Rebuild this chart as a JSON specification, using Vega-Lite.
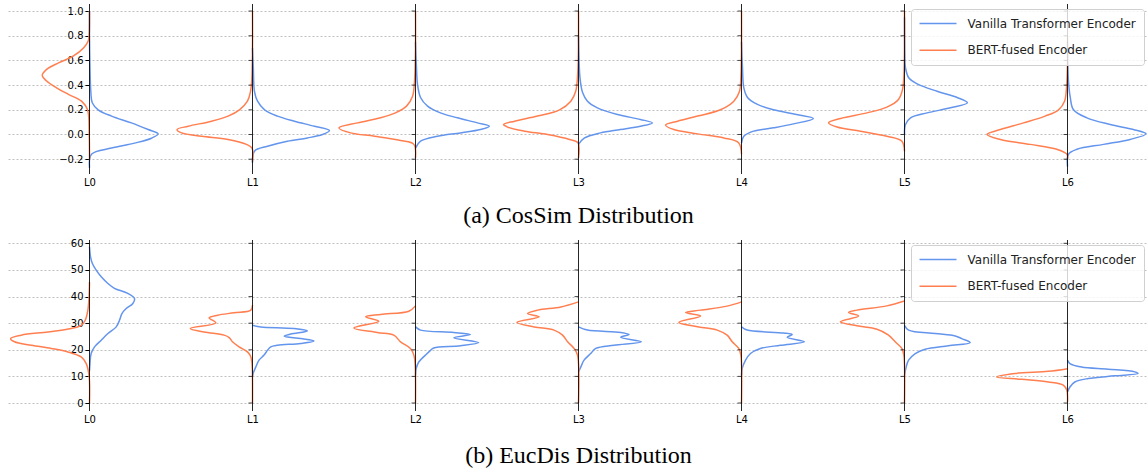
{
  "$schema": "https://vega.github.io/schema/vega-lite/v6.json",
  "padding": {"left": 7, "top": 3, "right": 0, "bottom": 0},
  "background": "white",
  "datasets": {
    "cos": [
      {"series":"Vanilla Transformer Encoder","layer":0,"y":-0.27,"x":0},
      {"series":"Vanilla Transformer Encoder","layer":0,"y":-0.16,"x":0.012},
      {"series":"Vanilla Transformer Encoder","layer":0,"y":-0.11,"x":0.135},
      {"series":"Vanilla Transformer Encoder","layer":0,"y":-0.07,"x":0.276},
      {"series":"Vanilla Transformer Encoder","layer":0,"y":-0.03,"x":0.38},
      {"series":"Vanilla Transformer Encoder","layer":0,"y":0.005,"x":0.421},
      {"series":"Vanilla Transformer Encoder","layer":0,"y":0.04,"x":0.36},
      {"series":"Vanilla Transformer Encoder","layer":0,"y":0.094,"x":0.257},
      {"series":"Vanilla Transformer Encoder","layer":0,"y":0.149,"x":0.135},
      {"series":"Vanilla Transformer Encoder","layer":0,"y":0.2,"x":0.053},
      {"series":"Vanilla Transformer Encoder","layer":0,"y":0.257,"x":0.017},
      {"series":"Vanilla Transformer Encoder","layer":0,"y":0.35,"x":0.008},
      {"series":"Vanilla Transformer Encoder","layer":0,"y":0.54,"x":0.003},
      {"series":"Vanilla Transformer Encoder","layer":0,"y":0.8,"x":0},
      {"series":"Vanilla Transformer Encoder","layer":0,"y":1.0,"x":0},
      {"series":"Vanilla Transformer Encoder","layer":1,"y":-0.23,"x":1},
      {"series":"Vanilla Transformer Encoder","layer":1,"y":-0.135,"x":1.012},
      {"series":"Vanilla Transformer Encoder","layer":1,"y":-0.095,"x":1.092},
      {"series":"Vanilla Transformer Encoder","layer":1,"y":-0.054,"x":1.214},
      {"series":"Vanilla Transformer Encoder","layer":1,"y":-0.028,"x":1.337},
      {"series":"Vanilla Transformer Encoder","layer":1,"y":0,"x":1.429},
      {"series":"Vanilla Transformer Encoder","layer":1,"y":0.032,"x":1.472},
      {"series":"Vanilla Transformer Encoder","layer":1,"y":0.067,"x":1.38},
      {"series":"Vanilla Transformer Encoder","layer":1,"y":0.108,"x":1.257},
      {"series":"Vanilla Transformer Encoder","layer":1,"y":0.149,"x":1.153},
      {"series":"Vanilla Transformer Encoder","layer":1,"y":0.2,"x":1.074},
      {"series":"Vanilla Transformer Encoder","layer":1,"y":0.27,"x":1.031},
      {"series":"Vanilla Transformer Encoder","layer":1,"y":0.35,"x":1.012},
      {"series":"Vanilla Transformer Encoder","layer":1,"y":0.54,"x":1.005},
      {"series":"Vanilla Transformer Encoder","layer":1,"y":0.7,"x":1},
      {"series":"Vanilla Transformer Encoder","layer":2,"y":-0.11,"x":2},
      {"series":"Vanilla Transformer Encoder","layer":2,"y":-0.054,"x":2.031},
      {"series":"Vanilla Transformer Encoder","layer":2,"y":-0.014,"x":2.135},
      {"series":"Vanilla Transformer Encoder","layer":2,"y":0.013,"x":2.276},
      {"series":"Vanilla Transformer Encoder","layer":2,"y":0.04,"x":2.398},
      {"series":"Vanilla Transformer Encoder","layer":2,"y":0.067,"x":2.453},
      {"series":"Vanilla Transformer Encoder","layer":2,"y":0.094,"x":2.38},
      {"series":"Vanilla Transformer Encoder","layer":2,"y":0.135,"x":2.257},
      {"series":"Vanilla Transformer Encoder","layer":2,"y":0.175,"x":2.153},
      {"series":"Vanilla Transformer Encoder","layer":2,"y":0.23,"x":2.074},
      {"series":"Vanilla Transformer Encoder","layer":2,"y":0.3,"x":2.031},
      {"series":"Vanilla Transformer Encoder","layer":2,"y":0.41,"x":2.012},
      {"series":"Vanilla Transformer Encoder","layer":2,"y":0.54,"x":2.006},
      {"series":"Vanilla Transformer Encoder","layer":2,"y":0.75,"x":2},
      {"series":"Vanilla Transformer Encoder","layer":3,"y":-0.08,"x":3},
      {"series":"Vanilla Transformer Encoder","layer":3,"y":-0.028,"x":3.037},
      {"series":"Vanilla Transformer Encoder","layer":3,"y":0.013,"x":3.135},
      {"series":"Vanilla Transformer Encoder","layer":3,"y":0.04,"x":3.257},
      {"series":"Vanilla Transformer Encoder","layer":3,"y":0.067,"x":3.38},
      {"series":"Vanilla Transformer Encoder","layer":3,"y":0.094,"x":3.453},
      {"series":"Vanilla Transformer Encoder","layer":3,"y":0.122,"x":3.38},
      {"series":"Vanilla Transformer Encoder","layer":3,"y":0.162,"x":3.239},
      {"series":"Vanilla Transformer Encoder","layer":3,"y":0.216,"x":3.116},
      {"series":"Vanilla Transformer Encoder","layer":3,"y":0.27,"x":3.055},
      {"series":"Vanilla Transformer Encoder","layer":3,"y":0.34,"x":3.025},
      {"series":"Vanilla Transformer Encoder","layer":3,"y":0.46,"x":3.009},
      {"series":"Vanilla Transformer Encoder","layer":3,"y":0.68,"x":3.002},
      {"series":"Vanilla Transformer Encoder","layer":3,"y":0.8,"x":3},
      {"series":"Vanilla Transformer Encoder","layer":4,"y":-0.07,"x":4},
      {"series":"Vanilla Transformer Encoder","layer":4,"y":-0.014,"x":4.014},
      {"series":"Vanilla Transformer Encoder","layer":4,"y":0.027,"x":4.074},
      {"series":"Vanilla Transformer Encoder","layer":4,"y":0.054,"x":4.196},
      {"series":"Vanilla Transformer Encoder","layer":4,"y":0.086,"x":4.319},
      {"series":"Vanilla Transformer Encoder","layer":4,"y":0.13,"x":4.441},
      {"series":"Vanilla Transformer Encoder","layer":4,"y":0.162,"x":4.337},
      {"series":"Vanilla Transformer Encoder","layer":4,"y":0.2,"x":4.196},
      {"series":"Vanilla Transformer Encoder","layer":4,"y":0.244,"x":4.098},
      {"series":"Vanilla Transformer Encoder","layer":4,"y":0.3,"x":4.037},
      {"series":"Vanilla Transformer Encoder","layer":4,"y":0.38,"x":4.014},
      {"series":"Vanilla Transformer Encoder","layer":4,"y":0.54,"x":4.006},
      {"series":"Vanilla Transformer Encoder","layer":4,"y":0.75,"x":4},
      {"series":"Vanilla Transformer Encoder","layer":5,"y":0,"x":5},
      {"series":"Vanilla Transformer Encoder","layer":5,"y":0.081,"x":5.006},
      {"series":"Vanilla Transformer Encoder","layer":5,"y":0.135,"x":5.037},
      {"series":"Vanilla Transformer Encoder","layer":5,"y":0.175,"x":5.139},
      {"series":"Vanilla Transformer Encoder","layer":5,"y":0.216,"x":5.282},
      {"series":"Vanilla Transformer Encoder","layer":5,"y":0.257,"x":5.386},
      {"series":"Vanilla Transformer Encoder","layer":5,"y":0.3,"x":5.323},
      {"series":"Vanilla Transformer Encoder","layer":5,"y":0.35,"x":5.2},
      {"series":"Vanilla Transformer Encoder","layer":5,"y":0.41,"x":5.078},
      {"series":"Vanilla Transformer Encoder","layer":5,"y":0.46,"x":5.026},
      {"series":"Vanilla Transformer Encoder","layer":5,"y":0.54,"x":5.006},
      {"series":"Vanilla Transformer Encoder","layer":5,"y":0.65,"x":5.002},
      {"series":"Vanilla Transformer Encoder","layer":5,"y":0.95,"x":5},
      {"series":"Vanilla Transformer Encoder","layer":6,"y":-0.26,"x":6},
      {"series":"Vanilla Transformer Encoder","layer":6,"y":-0.16,"x":6.006},
      {"series":"Vanilla Transformer Encoder","layer":6,"y":-0.12,"x":6.058},
      {"series":"Vanilla Transformer Encoder","layer":6,"y":-0.08,"x":6.221},
      {"series":"Vanilla Transformer Encoder","layer":6,"y":-0.04,"x":6.384},
      {"series":"Vanilla Transformer Encoder","layer":6,"y":0.005,"x":6.482},
      {"series":"Vanilla Transformer Encoder","layer":6,"y":0.04,"x":6.404},
      {"series":"Vanilla Transformer Encoder","layer":6,"y":0.081,"x":6.262},
      {"series":"Vanilla Transformer Encoder","layer":6,"y":0.135,"x":6.119},
      {"series":"Vanilla Transformer Encoder","layer":6,"y":0.2,"x":6.037},
      {"series":"Vanilla Transformer Encoder","layer":6,"y":0.3,"x":6.017},
      {"series":"Vanilla Transformer Encoder","layer":6,"y":0.43,"x":6.006},
      {"series":"Vanilla Transformer Encoder","layer":6,"y":0.75,"x":6},
      {"series":"BERT-fused Encoder","layer":0,"y":-0.2,"x":0},
      {"series":"BERT-fused Encoder","layer":0,"y":0,"x":-0.002},
      {"series":"BERT-fused Encoder","layer":0,"y":0.2,"x":-0.012},
      {"series":"BERT-fused Encoder","layer":0,"y":0.27,"x":-0.049},
      {"series":"BERT-fused Encoder","layer":0,"y":0.325,"x":-0.129},
      {"series":"BERT-fused Encoder","layer":0,"y":0.378,"x":-0.202},
      {"series":"BERT-fused Encoder","layer":0,"y":0.433,"x":-0.263},
      {"series":"BERT-fused Encoder","layer":0,"y":0.48,"x":-0.29},
      {"series":"BERT-fused Encoder","layer":0,"y":0.528,"x":-0.263},
      {"series":"BERT-fused Encoder","layer":0,"y":0.58,"x":-0.19},
      {"series":"BERT-fused Encoder","layer":0,"y":0.636,"x":-0.098},
      {"series":"BERT-fused Encoder","layer":0,"y":0.7,"x":-0.037},
      {"series":"BERT-fused Encoder","layer":0,"y":0.757,"x":-0.008},
      {"series":"BERT-fused Encoder","layer":0,"y":0.81,"x":-0.002},
      {"series":"BERT-fused Encoder","layer":0,"y":1.0,"x":0},
      {"series":"BERT-fused Encoder","layer":1,"y":-0.22,"x":1},
      {"series":"BERT-fused Encoder","layer":1,"y":-0.11,"x":0.997},
      {"series":"BERT-fused Encoder","layer":1,"y":-0.08,"x":0.963},
      {"series":"BERT-fused Encoder","layer":1,"y":-0.04,"x":0.85},
      {"series":"BERT-fused Encoder","layer":1,"y":-0.014,"x":0.688},
      {"series":"BERT-fused Encoder","layer":1,"y":0.013,"x":0.565},
      {"series":"BERT-fused Encoder","layer":1,"y":0.04,"x":0.537},
      {"series":"BERT-fused Encoder","layer":1,"y":0.067,"x":0.605},
      {"series":"BERT-fused Encoder","layer":1,"y":0.108,"x":0.749},
      {"series":"BERT-fused Encoder","layer":1,"y":0.149,"x":0.85},
      {"series":"BERT-fused Encoder","layer":1,"y":0.2,"x":0.92},
      {"series":"BERT-fused Encoder","layer":1,"y":0.27,"x":0.969},
      {"series":"BERT-fused Encoder","layer":1,"y":0.35,"x":0.988},
      {"series":"BERT-fused Encoder","layer":1,"y":0.43,"x":0.995},
      {"series":"BERT-fused Encoder","layer":1,"y":0.7,"x":1},
      {"series":"BERT-fused Encoder","layer":1,"y":1.0,"x":1},
      {"series":"BERT-fused Encoder","layer":2,"y":-0.19,"x":2},
      {"series":"BERT-fused Encoder","layer":2,"y":-0.08,"x":1.99},
      {"series":"BERT-fused Encoder","layer":2,"y":-0.049,"x":1.908},
      {"series":"BERT-fused Encoder","layer":2,"y":-0.014,"x":1.749},
      {"series":"BERT-fused Encoder","layer":2,"y":0.013,"x":1.602},
      {"series":"BERT-fused Encoder","layer":2,"y":0.054,"x":1.53},
      {"series":"BERT-fused Encoder","layer":2,"y":0.094,"x":1.645},
      {"series":"BERT-fused Encoder","layer":2,"y":0.135,"x":1.786},
      {"series":"BERT-fused Encoder","layer":2,"y":0.175,"x":1.877},
      {"series":"BERT-fused Encoder","layer":2,"y":0.23,"x":1.945},
      {"series":"BERT-fused Encoder","layer":2,"y":0.31,"x":1.982},
      {"series":"BERT-fused Encoder","layer":2,"y":0.43,"x":1.994},
      {"series":"BERT-fused Encoder","layer":2,"y":0.7,"x":2},
      {"series":"BERT-fused Encoder","layer":2,"y":1.0,"x":2},
      {"series":"BERT-fused Encoder","layer":3,"y":-0.19,"x":3},
      {"series":"BERT-fused Encoder","layer":3,"y":-0.068,"x":2.997},
      {"series":"BERT-fused Encoder","layer":3,"y":-0.04,"x":2.945},
      {"series":"BERT-fused Encoder","layer":3,"y":0,"x":2.81},
      {"series":"BERT-fused Encoder","layer":3,"y":0.027,"x":2.669},
      {"series":"BERT-fused Encoder","layer":3,"y":0.06,"x":2.565},
      {"series":"BERT-fused Encoder","layer":3,"y":0.081,"x":2.54},
      {"series":"BERT-fused Encoder","layer":3,"y":0.108,"x":2.608},
      {"series":"BERT-fused Encoder","layer":3,"y":0.149,"x":2.749},
      {"series":"BERT-fused Encoder","layer":3,"y":0.2,"x":2.884},
      {"series":"BERT-fused Encoder","layer":3,"y":0.27,"x":2.953},
      {"series":"BERT-fused Encoder","layer":3,"y":0.35,"x":2.983},
      {"series":"BERT-fused Encoder","layer":3,"y":0.49,"x":2.995},
      {"series":"BERT-fused Encoder","layer":3,"y":0.75,"x":3},
      {"series":"BERT-fused Encoder","layer":3,"y":1.0,"x":3},
      {"series":"BERT-fused Encoder","layer":4,"y":-0.16,"x":4},
      {"series":"BERT-fused Encoder","layer":4,"y":-0.068,"x":3.983},
      {"series":"BERT-fused Encoder","layer":4,"y":-0.028,"x":3.892},
      {"series":"BERT-fused Encoder","layer":4,"y":0.005,"x":3.73},
      {"series":"BERT-fused Encoder","layer":4,"y":0.04,"x":3.585},
      {"series":"BERT-fused Encoder","layer":4,"y":0.076,"x":3.534},
      {"series":"BERT-fused Encoder","layer":4,"y":0.108,"x":3.608},
      {"series":"BERT-fused Encoder","layer":4,"y":0.149,"x":3.73},
      {"series":"BERT-fused Encoder","layer":4,"y":0.2,"x":3.871},
      {"series":"BERT-fused Encoder","layer":4,"y":0.27,"x":3.953},
      {"series":"BERT-fused Encoder","layer":4,"y":0.35,"x":3.988},
      {"series":"BERT-fused Encoder","layer":4,"y":0.46,"x":3.996},
      {"series":"BERT-fused Encoder","layer":4,"y":0.7,"x":4},
      {"series":"BERT-fused Encoder","layer":4,"y":1.0,"x":4},
      {"series":"BERT-fused Encoder","layer":5,"y":-0.135,"x":5},
      {"series":"BERT-fused Encoder","layer":5,"y":-0.054,"x":4.984},
      {"series":"BERT-fused Encoder","layer":5,"y":-0.014,"x":4.892},
      {"series":"BERT-fused Encoder","layer":5,"y":0.027,"x":4.73},
      {"series":"BERT-fused Encoder","layer":5,"y":0.06,"x":4.586},
      {"series":"BERT-fused Encoder","layer":5,"y":0.094,"x":4.534},
      {"series":"BERT-fused Encoder","layer":5,"y":0.13,"x":4.608},
      {"series":"BERT-fused Encoder","layer":5,"y":0.175,"x":4.77},
      {"series":"BERT-fused Encoder","layer":5,"y":0.222,"x":4.892},
      {"series":"BERT-fused Encoder","layer":5,"y":0.284,"x":4.963},
      {"series":"BERT-fused Encoder","layer":5,"y":0.365,"x":4.988},
      {"series":"BERT-fused Encoder","layer":5,"y":0.47,"x":4.996},
      {"series":"BERT-fused Encoder","layer":5,"y":0.7,"x":5},
      {"series":"BERT-fused Encoder","layer":5,"y":1.0,"x":5},
      {"series":"BERT-fused Encoder","layer":6,"y":-0.2,"x":6},
      {"series":"BERT-fused Encoder","layer":6,"y":-0.16,"x":5.997},
      {"series":"BERT-fused Encoder","layer":6,"y":-0.12,"x":5.935},
      {"series":"BERT-fused Encoder","layer":6,"y":-0.08,"x":5.771},
      {"series":"BERT-fused Encoder","layer":6,"y":-0.04,"x":5.588},
      {"series":"BERT-fused Encoder","layer":6,"y":0,"x":5.506},
      {"series":"BERT-fused Encoder","layer":6,"y":0.04,"x":5.588},
      {"series":"BERT-fused Encoder","layer":6,"y":0.094,"x":5.73},
      {"series":"BERT-fused Encoder","layer":6,"y":0.149,"x":5.863},
      {"series":"BERT-fused Encoder","layer":6,"y":0.2,"x":5.945},
      {"series":"BERT-fused Encoder","layer":6,"y":0.27,"x":5.982},
      {"series":"BERT-fused Encoder","layer":6,"y":0.38,"x":5.994},
      {"series":"BERT-fused Encoder","layer":6,"y":0.6,"x":6},
      {"series":"BERT-fused Encoder","layer":6,"y":0.8,"x":6}
    ],
    "euc": [
      {"series":"Vanilla Transformer Encoder","layer":0,"y":12,"x":0},
      {"series":"Vanilla Transformer Encoder","layer":0,"y":14.8,"x":0.003},
      {"series":"Vanilla Transformer Encoder","layer":0,"y":18.6,"x":0.01},
      {"series":"Vanilla Transformer Encoder","layer":0,"y":21.1,"x":0.031},
      {"series":"Vanilla Transformer Encoder","layer":0,"y":23.6,"x":0.072},
      {"series":"Vanilla Transformer Encoder","layer":0,"y":26.1,"x":0.113},
      {"series":"Vanilla Transformer Encoder","layer":0,"y":28.6,"x":0.164},
      {"series":"Vanilla Transformer Encoder","layer":0,"y":31.1,"x":0.184},
      {"series":"Vanilla Transformer Encoder","layer":0,"y":33.6,"x":0.199},
      {"series":"Vanilla Transformer Encoder","layer":0,"y":35.5,"x":0.225},
      {"series":"Vanilla Transformer Encoder","layer":0,"y":37.4,"x":0.266},
      {"series":"Vanilla Transformer Encoder","layer":0,"y":39.3,"x":0.276},
      {"series":"Vanilla Transformer Encoder","layer":0,"y":41.2,"x":0.235},
      {"series":"Vanilla Transformer Encoder","layer":0,"y":43.1,"x":0.153},
      {"series":"Vanilla Transformer Encoder","layer":0,"y":44.9,"x":0.113},
      {"series":"Vanilla Transformer Encoder","layer":0,"y":47.4,"x":0.072},
      {"series":"Vanilla Transformer Encoder","layer":0,"y":49.9,"x":0.041},
      {"series":"Vanilla Transformer Encoder","layer":0,"y":52.5,"x":0.017},
      {"series":"Vanilla Transformer Encoder","layer":0,"y":55,"x":0.006},
      {"series":"Vanilla Transformer Encoder","layer":0,"y":58.7,"x":0},
      {"series":"Vanilla Transformer Encoder","layer":1,"y":9.8,"x":1},
      {"series":"Vanilla Transformer Encoder","layer":1,"y":11.1,"x":1.004},
      {"series":"Vanilla Transformer Encoder","layer":1,"y":13.5,"x":1.02},
      {"series":"Vanilla Transformer Encoder","layer":1,"y":16.1,"x":1.04},
      {"series":"Vanilla Transformer Encoder","layer":1,"y":18,"x":1.071},
      {"series":"Vanilla Transformer Encoder","layer":1,"y":19.8,"x":1.092},
      {"series":"Vanilla Transformer Encoder","layer":1,"y":21.1,"x":1.112},
      {"series":"Vanilla Transformer Encoder","layer":1,"y":21.7,"x":1.153},
      {"series":"Vanilla Transformer Encoder","layer":1,"y":22.4,"x":1.296},
      {"series":"Vanilla Transformer Encoder","layer":1,"y":23.3,"x":1.377},
      {"series":"Vanilla Transformer Encoder","layer":1,"y":24.2,"x":1.296},
      {"series":"Vanilla Transformer Encoder","layer":1,"y":25.1,"x":1.194},
      {"series":"Vanilla Transformer Encoder","layer":1,"y":25.9,"x":1.235},
      {"series":"Vanilla Transformer Encoder","layer":1,"y":27.1,"x":1.337},
      {"series":"Vanilla Transformer Encoder","layer":1,"y":28,"x":1.255},
      {"series":"Vanilla Transformer Encoder","layer":1,"y":28.6,"x":1.051},
      {"series":"Vanilla Transformer Encoder","layer":1,"y":29.2,"x":1},
      {"series":"Vanilla Transformer Encoder","layer":2,"y":10.4,"x":2},
      {"series":"Vanilla Transformer Encoder","layer":2,"y":12.9,"x":2.004},
      {"series":"Vanilla Transformer Encoder","layer":2,"y":15.4,"x":2.02},
      {"series":"Vanilla Transformer Encoder","layer":2,"y":18,"x":2.061},
      {"series":"Vanilla Transformer Encoder","layer":2,"y":19.8,"x":2.092},
      {"series":"Vanilla Transformer Encoder","layer":2,"y":20.7,"x":2.112},
      {"series":"Vanilla Transformer Encoder","layer":2,"y":21.5,"x":2.276},
      {"series":"Vanilla Transformer Encoder","layer":2,"y":22.7,"x":2.388},
      {"series":"Vanilla Transformer Encoder","layer":2,"y":24.5,"x":2.235},
      {"series":"Vanilla Transformer Encoder","layer":2,"y":25.7,"x":2.337},
      {"series":"Vanilla Transformer Encoder","layer":2,"y":26.5,"x":2.235},
      {"series":"Vanilla Transformer Encoder","layer":2,"y":27.4,"x":2.031},
      {"series":"Vanilla Transformer Encoder","layer":2,"y":28.6,"x":2},
      {"series":"Vanilla Transformer Encoder","layer":3,"y":11.7,"x":3},
      {"series":"Vanilla Transformer Encoder","layer":3,"y":13.5,"x":3.014},
      {"series":"Vanilla Transformer Encoder","layer":3,"y":16.1,"x":3.034},
      {"series":"Vanilla Transformer Encoder","layer":3,"y":18.6,"x":3.075},
      {"series":"Vanilla Transformer Encoder","layer":3,"y":20.5,"x":3.106},
      {"series":"Vanilla Transformer Encoder","layer":3,"y":21.7,"x":3.218},
      {"series":"Vanilla Transformer Encoder","layer":3,"y":23,"x":3.386},
      {"series":"Vanilla Transformer Encoder","layer":3,"y":24.7,"x":3.259},
      {"series":"Vanilla Transformer Encoder","layer":3,"y":25.7,"x":3.31},
      {"series":"Vanilla Transformer Encoder","layer":3,"y":26.5,"x":3.259},
      {"series":"Vanilla Transformer Encoder","layer":3,"y":27.4,"x":3.055},
      {"series":"Vanilla Transformer Encoder","layer":3,"y":28.6,"x":3},
      {"series":"Vanilla Transformer Encoder","layer":4,"y":10.4,"x":4},
      {"series":"Vanilla Transformer Encoder","layer":4,"y":12.9,"x":4.004},
      {"series":"Vanilla Transformer Encoder","layer":4,"y":16.1,"x":4.025},
      {"series":"Vanilla Transformer Encoder","layer":4,"y":18.6,"x":4.055},
      {"series":"Vanilla Transformer Encoder","layer":4,"y":20.5,"x":4.116},
      {"series":"Vanilla Transformer Encoder","layer":4,"y":21.7,"x":4.239},
      {"series":"Vanilla Transformer Encoder","layer":4,"y":23,"x":4.386},
      {"series":"Vanilla Transformer Encoder","layer":4,"y":24.7,"x":4.28},
      {"series":"Vanilla Transformer Encoder","layer":4,"y":25.7,"x":4.311},
      {"series":"Vanilla Transformer Encoder","layer":4,"y":26.3,"x":4.259},
      {"series":"Vanilla Transformer Encoder","layer":4,"y":27.4,"x":4.035},
      {"series":"Vanilla Transformer Encoder","layer":4,"y":28.6,"x":4},
      {"series":"Vanilla Transformer Encoder","layer":5,"y":10.4,"x":5},
      {"series":"Vanilla Transformer Encoder","layer":5,"y":12.9,"x":5.008},
      {"series":"Vanilla Transformer Encoder","layer":5,"y":16.1,"x":5.025},
      {"series":"Vanilla Transformer Encoder","layer":5,"y":18.6,"x":5.066},
      {"series":"Vanilla Transformer Encoder","layer":5,"y":20.2,"x":5.127},
      {"series":"Vanilla Transformer Encoder","layer":5,"y":21.5,"x":5.27},
      {"series":"Vanilla Transformer Encoder","layer":5,"y":22.7,"x":5.403},
      {"series":"Vanilla Transformer Encoder","layer":5,"y":24.2,"x":5.351},
      {"series":"Vanilla Transformer Encoder","layer":5,"y":25.2,"x":5.311},
      {"series":"Vanilla Transformer Encoder","layer":5,"y":26.1,"x":5.188},
      {"series":"Vanilla Transformer Encoder","layer":5,"y":27.4,"x":5.025},
      {"series":"Vanilla Transformer Encoder","layer":5,"y":29.2,"x":5},
      {"series":"Vanilla Transformer Encoder","layer":6,"y":4.1,"x":6},
      {"series":"Vanilla Transformer Encoder","layer":6,"y":6,"x":6.015},
      {"series":"Vanilla Transformer Encoder","layer":6,"y":7.9,"x":6.045},
      {"series":"Vanilla Transformer Encoder","layer":6,"y":9.2,"x":6.127},
      {"series":"Vanilla Transformer Encoder","layer":6,"y":10.2,"x":6.29},
      {"series":"Vanilla Transformer Encoder","layer":6,"y":11.1,"x":6.433},
      {"series":"Vanilla Transformer Encoder","layer":6,"y":11.7,"x":6.413},
      {"series":"Vanilla Transformer Encoder","layer":6,"y":12.7,"x":6.249},
      {"series":"Vanilla Transformer Encoder","layer":6,"y":13.5,"x":6.086},
      {"series":"Vanilla Transformer Encoder","layer":6,"y":14.8,"x":6.015},
      {"series":"Vanilla Transformer Encoder","layer":6,"y":16.1,"x":6},
      {"series":"BERT-fused Encoder","layer":0,"y":0,"x":0},
      {"series":"BERT-fused Encoder","layer":0,"y":9.8,"x":-0.002},
      {"series":"BERT-fused Encoder","layer":0,"y":14.8,"x":-0.02},
      {"series":"BERT-fused Encoder","layer":0,"y":17.3,"x":-0.051},
      {"series":"BERT-fused Encoder","layer":0,"y":19.2,"x":-0.132},
      {"series":"BERT-fused Encoder","layer":0,"y":20.5,"x":-0.235},
      {"series":"BERT-fused Encoder","layer":0,"y":21.7,"x":-0.357},
      {"series":"BERT-fused Encoder","layer":0,"y":23,"x":-0.46},
      {"series":"BERT-fused Encoder","layer":0,"y":24.2,"x":-0.484},
      {"series":"BERT-fused Encoder","layer":0,"y":25.5,"x":-0.419},
      {"series":"BERT-fused Encoder","layer":0,"y":26.7,"x":-0.255},
      {"series":"BERT-fused Encoder","layer":0,"y":28,"x":-0.112},
      {"series":"BERT-fused Encoder","layer":0,"y":29.2,"x":-0.051},
      {"series":"BERT-fused Encoder","layer":0,"y":31.1,"x":-0.026},
      {"series":"BERT-fused Encoder","layer":0,"y":34.9,"x":-0.01},
      {"series":"BERT-fused Encoder","layer":0,"y":39.9,"x":-0.003},
      {"series":"BERT-fused Encoder","layer":0,"y":45.5,"x":0},
      {"series":"BERT-fused Encoder","layer":1,"y":0,"x":1},
      {"series":"BERT-fused Encoder","layer":1,"y":14.8,"x":0.997},
      {"series":"BERT-fused Encoder","layer":1,"y":17.3,"x":0.99},
      {"series":"BERT-fused Encoder","layer":1,"y":19.2,"x":0.969},
      {"series":"BERT-fused Encoder","layer":1,"y":21.1,"x":0.918},
      {"series":"BERT-fused Encoder","layer":1,"y":23,"x":0.877},
      {"series":"BERT-fused Encoder","layer":1,"y":24.6,"x":0.857},
      {"series":"BERT-fused Encoder","layer":1,"y":25.5,"x":0.826},
      {"series":"BERT-fused Encoder","layer":1,"y":26.7,"x":0.703},
      {"series":"BERT-fused Encoder","layer":1,"y":28,"x":0.618},
      {"series":"BERT-fused Encoder","layer":1,"y":30.1,"x":0.775},
      {"series":"BERT-fused Encoder","layer":1,"y":32,"x":0.734},
      {"series":"BERT-fused Encoder","layer":1,"y":33,"x":0.786},
      {"series":"BERT-fused Encoder","layer":1,"y":33.9,"x":0.887},
      {"series":"BERT-fused Encoder","layer":1,"y":34.9,"x":0.99},
      {"series":"BERT-fused Encoder","layer":1,"y":36.8,"x":1},
      {"series":"BERT-fused Encoder","layer":2,"y":0,"x":2},
      {"series":"BERT-fused Encoder","layer":2,"y":14.2,"x":1.998},
      {"series":"BERT-fused Encoder","layer":2,"y":18,"x":1.99},
      {"series":"BERT-fused Encoder","layer":2,"y":20.5,"x":1.969},
      {"series":"BERT-fused Encoder","layer":2,"y":23,"x":1.908},
      {"series":"BERT-fused Encoder","layer":2,"y":25.5,"x":1.867},
      {"series":"BERT-fused Encoder","layer":2,"y":26.5,"x":1.765},
      {"series":"BERT-fused Encoder","layer":2,"y":28.2,"x":1.622},
      {"series":"BERT-fused Encoder","layer":2,"y":30.7,"x":1.775},
      {"series":"BERT-fused Encoder","layer":2,"y":32.4,"x":1.694},
      {"series":"BERT-fused Encoder","layer":2,"y":33.3,"x":1.786},
      {"series":"BERT-fused Encoder","layer":2,"y":34.5,"x":1.959},
      {"series":"BERT-fused Encoder","layer":2,"y":36.5,"x":2},
      {"series":"BERT-fused Encoder","layer":3,"y":0,"x":3},
      {"series":"BERT-fused Encoder","layer":3,"y":18,"x":2.994},
      {"series":"BERT-fused Encoder","layer":3,"y":20.5,"x":2.973},
      {"series":"BERT-fused Encoder","layer":3,"y":23,"x":2.933},
      {"series":"BERT-fused Encoder","layer":3,"y":25.5,"x":2.902},
      {"series":"BERT-fused Encoder","layer":3,"y":27.4,"x":2.85},
      {"series":"BERT-fused Encoder","layer":3,"y":28.6,"x":2.728},
      {"series":"BERT-fused Encoder","layer":3,"y":30.3,"x":2.622},
      {"series":"BERT-fused Encoder","layer":3,"y":32.4,"x":2.759},
      {"series":"BERT-fused Encoder","layer":3,"y":33.6,"x":2.687},
      {"series":"BERT-fused Encoder","layer":3,"y":34.9,"x":2.749},
      {"series":"BERT-fused Encoder","layer":3,"y":36.1,"x":2.892},
      {"series":"BERT-fused Encoder","layer":3,"y":38,"x":3},
      {"series":"BERT-fused Encoder","layer":4,"y":0,"x":4},
      {"series":"BERT-fused Encoder","layer":4,"y":18,"x":3.996},
      {"series":"BERT-fused Encoder","layer":4,"y":20.5,"x":3.983},
      {"series":"BERT-fused Encoder","layer":4,"y":23,"x":3.943},
      {"series":"BERT-fused Encoder","layer":4,"y":25.5,"x":3.912},
      {"series":"BERT-fused Encoder","layer":4,"y":27.4,"x":3.851},
      {"series":"BERT-fused Encoder","layer":4,"y":28.6,"x":3.738},
      {"series":"BERT-fused Encoder","layer":4,"y":30.3,"x":3.616},
      {"series":"BERT-fused Encoder","layer":4,"y":32.7,"x":3.749},
      {"series":"BERT-fused Encoder","layer":4,"y":34,"x":3.657},
      {"series":"BERT-fused Encoder","layer":4,"y":34.9,"x":3.749},
      {"series":"BERT-fused Encoder","layer":4,"y":36.4,"x":3.912},
      {"series":"BERT-fused Encoder","layer":4,"y":38,"x":4},
      {"series":"BERT-fused Encoder","layer":5,"y":0,"x":5},
      {"series":"BERT-fused Encoder","layer":5,"y":18,"x":4.996},
      {"series":"BERT-fused Encoder","layer":5,"y":20.5,"x":4.984},
      {"series":"BERT-fused Encoder","layer":5,"y":23,"x":4.943},
      {"series":"BERT-fused Encoder","layer":5,"y":25.5,"x":4.902},
      {"series":"BERT-fused Encoder","layer":5,"y":27.7,"x":4.831},
      {"series":"BERT-fused Encoder","layer":5,"y":29,"x":4.708},
      {"series":"BERT-fused Encoder","layer":5,"y":30.5,"x":4.606},
      {"series":"BERT-fused Encoder","layer":5,"y":32.7,"x":4.718},
      {"series":"BERT-fused Encoder","layer":5,"y":34,"x":4.657},
      {"series":"BERT-fused Encoder","layer":5,"y":34.9,"x":4.708},
      {"series":"BERT-fused Encoder","layer":5,"y":36.5,"x":4.892},
      {"series":"BERT-fused Encoder","layer":5,"y":38.3,"x":5},
      {"series":"BERT-fused Encoder","layer":6,"y":0.4,"x":6},
      {"series":"BERT-fused Encoder","layer":6,"y":4.8,"x":5.996},
      {"series":"BERT-fused Encoder","layer":6,"y":6.7,"x":5.974},
      {"series":"BERT-fused Encoder","layer":6,"y":7.9,"x":5.882},
      {"series":"BERT-fused Encoder","layer":6,"y":8.9,"x":5.718},
      {"series":"BERT-fused Encoder","layer":6,"y":9.8,"x":5.565},
      {"series":"BERT-fused Encoder","layer":6,"y":11.1,"x":5.678},
      {"series":"BERT-fused Encoder","layer":6,"y":11.9,"x":5.882},
      {"series":"BERT-fused Encoder","layer":6,"y":12.9,"x":6}
    ],
    "layers": [
      {"layer":0},{"layer":1},{"layer":2},{"layer":3},{"layer":4},{"layer":5},{"layer":6}
    ],
    "tcos": [
      {"layer":1,"y":-0.2},{"layer":1,"y":0},{"layer":1,"y":0.2},{"layer":1,"y":0.4},{"layer":1,"y":0.6},{"layer":1,"y":0.8},{"layer":1,"y":1.0},
      {"layer":2,"y":-0.2},{"layer":2,"y":0},{"layer":2,"y":0.2},{"layer":2,"y":0.4},{"layer":2,"y":0.6},{"layer":2,"y":0.8},{"layer":2,"y":1.0},
      {"layer":3,"y":-0.2},{"layer":3,"y":0},{"layer":3,"y":0.2},{"layer":3,"y":0.4},{"layer":3,"y":0.6},{"layer":3,"y":0.8},{"layer":3,"y":1.0},
      {"layer":4,"y":-0.2},{"layer":4,"y":0},{"layer":4,"y":0.2},{"layer":4,"y":0.4},{"layer":4,"y":0.6},{"layer":4,"y":0.8},{"layer":4,"y":1.0},
      {"layer":5,"y":-0.2},{"layer":5,"y":0},{"layer":5,"y":0.2},{"layer":5,"y":0.4},{"layer":5,"y":0.6},{"layer":5,"y":0.8},{"layer":5,"y":1.0},
      {"layer":6,"y":-0.2},{"layer":6,"y":0},{"layer":6,"y":0.2},{"layer":6,"y":0.4},{"layer":6,"y":0.6},{"layer":6,"y":0.8},{"layer":6,"y":1.0}
    ],
    "teuc": [
      {"layer":1,"y":0},{"layer":1,"y":10},{"layer":1,"y":20},{"layer":1,"y":30},{"layer":1,"y":40},{"layer":1,"y":50},{"layer":1,"y":60},
      {"layer":2,"y":0},{"layer":2,"y":10},{"layer":2,"y":20},{"layer":2,"y":30},{"layer":2,"y":40},{"layer":2,"y":50},{"layer":2,"y":60},
      {"layer":3,"y":0},{"layer":3,"y":10},{"layer":3,"y":20},{"layer":3,"y":30},{"layer":3,"y":40},{"layer":3,"y":50},{"layer":3,"y":60},
      {"layer":4,"y":0},{"layer":4,"y":10},{"layer":4,"y":20},{"layer":4,"y":30},{"layer":4,"y":40},{"layer":4,"y":50},{"layer":4,"y":60},
      {"layer":5,"y":0},{"layer":5,"y":10},{"layer":5,"y":20},{"layer":5,"y":30},{"layer":5,"y":40},{"layer":5,"y":50},{"layer":5,"y":60},
      {"layer":6,"y":0},{"layer":6,"y":10},{"layer":6,"y":20},{"layer":6,"y":30},{"layer":6,"y":40},{"layer":6,"y":50},{"layer":6,"y":60}
    ]
  },
  "config": {
    "view": {"stroke": null},
    "concat": {"spacing": 10},
    "axis": {"labelFont": "DejaVu Sans", "labelFontSize": 10, "labelColor": "black", "title": null},
    "title": {"font": "Liberation Serif", "fontSize": 24, "fontWeight": "normal", "color": "black", "anchor": "middle"},
    "legend": {
      "orient": "top-right", "offset": 5, "title": null,
      "symbolType": "stroke", "symbolSize": 1369, "symbolStrokeWidth": 1.5,
      "labelFont": "DejaVu Sans", "labelFontSize": 12, "labelColor": "#222222", "labelLimit": 300,
      "padding": 7.5, "rowPadding": 12.7, "clipHeight": 14, "labelOffset": 10,
      "fillColor": "rgba(255,255,255,0.8)", "strokeColor": "#d0d0d0", "cornerRadius": 3
    }
  },
  "resolve": {"legend": {"color": "independent"}},
  "vconcat": [
    {
      "width": 1141, "height": 170,
      "title": {"text": "(a) CosSim Distribution", "orient": "bottom", "offset": 17},
      "encoding": {
        "x": {"type": "quantitative", "scale": {"domain": [-0.5, 6.5], "nice": false, "zero": false},
              "axis": {"values": [0,1,2,3,4,5,6], "labelExpr": "'L' + datum.value", "domain": false, "ticks": false, "grid": false, "labelPadding": 3, "labelOverlap": false}},
        "y": {"field": "y", "type": "quantitative", "scale": {"domain": [-0.32, 1.057], "nice": false, "zero": false},
              "axis": {"offset": -81, "values": [-0.2,0,0.2,0.4,0.6,0.8,1.0], "format": ".1f", "domain": false, "tickSize": 4, "tickColor": "black", "labelPadding": 2, "labelOverlap": false,
                       "grid": true, "gridDash": [2,2], "gridColor": "#b0b0b0", "gridWidth": 0.8}}
      },
      "layer": [
        {
          "data": {"name": "cos"},
          "mark": {"type": "line", "interpolate": "catmull-rom", "strokeWidth": 1.5},
          "encoding": {
            "x": {"field": "x", "type": "quantitative"},
            "color": {"field": "series", "type": "nominal",
                      "scale": {"domain": ["Vanilla Transformer Encoder", "BERT-fused Encoder"], "range": ["#6495ED", "#FF7F50"]},
                      "legend": {"orient": "top-right"}},
            "detail": {"field": "layer"},
            "order": {"field": "y"}
          }
        },
        {
          "data": {"name": "layers"},
          "mark": {"type": "rule", "color": "black", "strokeWidth": 1, "opacity": 0.85},
          "encoding": {"x": {"field": "layer", "type": "quantitative"}, "y": null}
        },
        {
          "data": {"name": "tcos"},
          "mark": {"type": "tick", "orient": "horizontal", "size": 4, "thickness": 1, "color": "black", "xOffset": -2},
          "encoding": {"x": {"field": "layer", "type": "quantitative"}}
        }
      ]
    },
    {
      "width": 1141, "height": 171,
      "title": {"text": "(b) EucDis Distribution", "orient": "bottom", "offset": 20},
      "encoding": {
        "x": {"type": "quantitative", "scale": {"domain": [-0.5, 6.5], "nice": false, "zero": false},
              "axis": {"values": [0,1,2,3,4,5,6], "labelExpr": "'L' + datum.value", "domain": false, "ticks": false, "grid": false, "labelPadding": 3, "labelOverlap": false}},
        "y": {"field": "y", "type": "quantitative", "scale": {"domain": [-3.0, 61.25], "nice": false, "zero": false},
              "axis": {"offset": -81, "values": [0,10,20,30,40,50,60], "domain": false, "tickSize": 4, "tickColor": "black", "labelPadding": 2, "labelOverlap": false,
                       "grid": true, "gridDash": [2,2], "gridColor": "#b0b0b0", "gridWidth": 0.8}}
      },
      "layer": [
        {
          "data": {"name": "euc"},
          "mark": {"type": "line", "interpolate": "catmull-rom", "strokeWidth": 1.5},
          "encoding": {
            "x": {"field": "x", "type": "quantitative"},
            "color": {"field": "series", "type": "nominal",
                      "scale": {"domain": ["Vanilla Transformer Encoder", "BERT-fused Encoder"], "range": ["#6495ED", "#FF7F50"]},
                      "legend": {"orient": "top-right"}},
            "detail": {"field": "layer"},
            "order": {"field": "y"}
          }
        },
        {
          "data": {"name": "layers"},
          "mark": {"type": "rule", "color": "black", "strokeWidth": 1, "opacity": 0.85},
          "encoding": {"x": {"field": "layer", "type": "quantitative"}, "y": null}
        },
        {
          "data": {"name": "teuc"},
          "mark": {"type": "tick", "orient": "horizontal", "size": 4, "thickness": 1, "color": "black", "xOffset": -2},
          "encoding": {"x": {"field": "layer", "type": "quantitative"}}
        }
      ]
    }
  ]
}
